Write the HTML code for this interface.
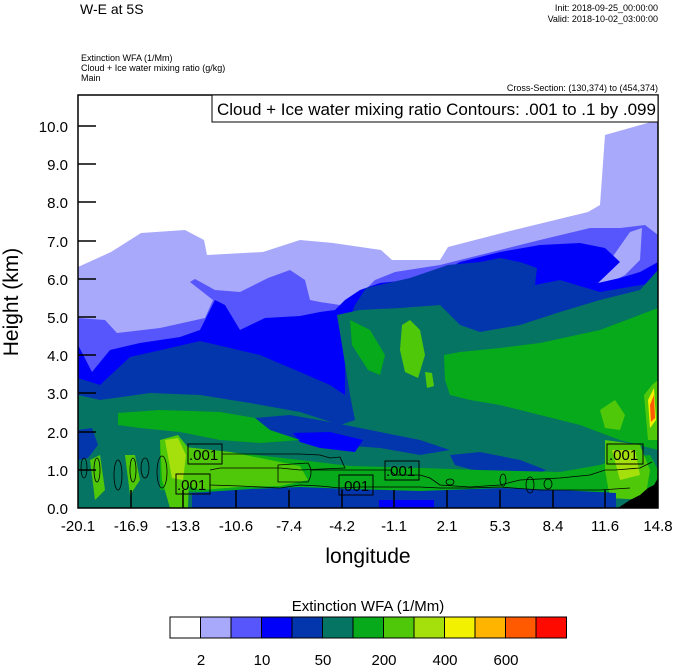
<!DOCTYPE html>
<html><head><meta charset="utf-8"><style>
html,body{margin:0;padding:0;background:#fff;}
body{width:674px;height:667px;overflow:hidden;position:relative;font-family:"Liberation Sans",sans-serif;}
svg{position:absolute;left:0;top:0;}
</style></head><body>
<svg width="674" height="667" viewBox="0 0 674 667" font-family="Liberation Sans, sans-serif">
<defs><clipPath id="c"><rect x="78" y="95" width="580" height="413"/></clipPath></defs>
<g clip-path="url(#c)">
<rect x="78" y="95" width="580" height="413" fill="#fff"/>
<polygon fill="#a9a9fc" points="78,267 111,252 141,233 185,230 204,240 207,255 263,252 300,240 333,243 381,250 392,260 440,260 448,247 514,230 588,212 600,205 605,135 658,120 658,508 78,508"/>
<polygon fill="#5656fc" points="78,318 105,320 117,333 160,328 205,318 213,300 190,282 195,279 215,290 240,292 268,278 290,270 305,280 310,300 320,302 340,305 360,295 375,280 395,272 440,265 480,255 540,240 590,228 620,228 645,225 658,235 658,508 78,508"/>
<polygon fill="#a9a9fc" points="595,282 630,232 642,228 640,260 625,275 600,288"/>
<polygon fill="#0000fa" points="78,345 92,372 110,350 140,343 180,337 200,330 215,300 225,305 240,330 265,318 300,316 320,312 335,310 345,300 360,290 380,283 430,278 460,262 500,252 540,245 580,243 605,248 620,262 598,283 620,278 640,272 658,262 658,508 78,508"/>
<polygon fill="#0336ac" points="78,378 100,385 130,357 170,348 200,341 230,348 260,355 300,372 330,385 345,395 345,330 355,305 366,288 410,278 448,265 480,262 500,258 520,262 537,268 535,285 560,280 600,292 658,282 658,508 78,508"/>
<polygon fill="#067462" points="78,395 100,400 150,393 200,395 250,403 300,412 340,425 355,420 350,395 342,345 337,315 360,310 400,308 440,305 460,325 480,332 520,325 560,312 600,300 640,290 658,270 658,508 78,508"/>
<polygon fill="#06aa1a" points="444,355 460,352 500,348 540,343 600,330 658,308 658,450 620,440 580,425 540,415 500,405 470,400 450,395 445,380"/>
<polygon fill="#06aa1a" points="350,320 370,330 385,355 380,375 368,370 352,345"/>
<polygon fill="#50c80a" points="402,325 410,320 420,330 425,355 418,378 405,372 400,350"/>
<polygon fill="#50c80a" points="425,372 432,373 434,386 427,388"/>
<polygon fill="#50c80a" points="600,410 615,400 625,415 620,430 605,428"/>
<polygon fill="#0336ac" points="255,418 290,415 330,422 380,432 420,440 450,450 420,455 380,448 340,445 300,440 270,430"/>
<polygon fill="#0000fa" points="293,433 330,432 363,440 355,452 320,448 300,442"/>
<polygon fill="#0336ac" points="450,455 480,452 520,460 546,470 530,478 480,472 455,465"/>
<polygon fill="#0336ac" points="78,430 92,428 98,445 88,458 78,460"/>
<polygon fill="#06aa1a" points="118,413 160,410 220,412 255,418 270,430 300,440 260,443 220,440 180,432 140,428 118,425"/>
<polygon fill="#06aa1a" points="160,445 230,452 300,460 350,466 420,468 480,470 560,472 600,465 620,458 650,455 658,470 658,490 600,492 500,490 420,492 350,490 300,488 250,490 200,492 160,490"/>
<polygon fill="#50c80a" points="185,447 230,452 280,462 300,466 308,480 280,486 240,487 200,490 185,485"/>
<polygon fill="#50c80a" points="160,440 178,435 190,450 188,508 170,508 162,480"/>
<polygon fill="#a6e00c" points="165,440 178,438 186,455 183,480 172,478"/>
<polygon fill="#50c80a" points="605,440 640,445 650,470 645,500 610,498 605,470"/>
<polygon fill="#a6e00c" points="612,450 635,450 640,475 620,480"/>
<polygon fill="#50c80a" points="90,460 100,455 105,490 95,500"/>
<polygon fill="#50c80a" points="125,455 135,455 140,480 130,495"/>
<polygon fill="#0336ac" points="192,493 250,489 300,487 350,489 420,491 500,488 560,490 616,493 616,508 192,508"/>
<rect x="379" y="500" width="55" height="8" fill="#0000fa"/>
<polygon fill="#50c80a" points="644,395 652,385 658,380 658,440 648,440"/>
<polygon fill="#f2f200" points="648,400 654,388 656,420 650,428"/>
<polygon fill="#ff5a00" points="650,405 654,395 655,418 651,422"/>
<polygon fill="#000" points="618,508 630,500 640,495 648,488 654,485 658,478 658,508"/>
<g fill="none" stroke="#000" stroke-width="0.8">
<polyline points="222,454 300,454 320,455 330,458 340,457 345,468 300,470 280,468 220,468 210,470"/>
<path d="M278,465 L308,463 Q314,472 308,482 L278,482 Z"/>
<polyline points="310,470 390,470 395,475 420,475 430,478 440,485 470,487 500,485 520,480 560,478 590,475 605,470 615,470 640,468 652,462"/>
<polyline points="210,485 240,486 280,488 300,485 320,486 340,488 360,487 380,487 420,487 440,488 470,488 500,487 540,490 600,490 630,488"/>
<ellipse cx="97" cy="470" rx="3" ry="12"/><ellipse cx="118" cy="475" rx="4" ry="15"/><ellipse cx="133" cy="470" rx="3" ry="12"/><ellipse cx="145" cy="468" rx="4" ry="10"/><ellipse cx="162" cy="472" rx="5" ry="16"/><ellipse cx="84" cy="468" rx="3" ry="10"/><ellipse cx="450" cy="482" rx="4" ry="3"/><ellipse cx="530" cy="485" rx="4" ry="8"/><ellipse cx="548" cy="484" rx="4" ry="5"/><ellipse cx="503" cy="480" rx="3" ry="6"/>
</g>
<g fill="none" stroke="#000" stroke-width="1">
<rect x="188" y="444" width="34" height="20"/><rect x="176" y="474" width="34" height="20"/><rect x="339" y="475" width="34" height="20"/><rect x="385" y="461" width="34" height="19"/><rect x="607" y="444" width="36" height="20"/>
</g>
<g font-size="15" fill="#000">
<text x="189" y="460">.001</text><text x="177" y="490">.001</text><text x="340" y="491">.001</text><text x="386" y="476">.001</text><text x="609" y="460">.001</text>
</g>
</g>
<rect x="78" y="95" width="580" height="413" fill="none" stroke="#000" stroke-width="1.5"/>
<rect x="212" y="95" width="446" height="27" fill="#fff" stroke="#000" stroke-width="1"/>
<text x="217" y="115" font-size="17">Cloud + Ice water mixing ratio Contours: .001 to .1 by .099</text>
<g stroke="#000" stroke-width="1.5">
<line x1="78" y1="126" x2="96" y2="126"/><line x1="78" y1="164" x2="96" y2="164"/><line x1="78" y1="202" x2="96" y2="202"/><line x1="78" y1="241" x2="96" y2="241"/><line x1="78" y1="279" x2="96" y2="279"/><line x1="78" y1="317" x2="96" y2="317"/><line x1="78" y1="355" x2="96" y2="355"/><line x1="78" y1="393" x2="96" y2="393"/><line x1="78" y1="432" x2="96" y2="432"/><line x1="78" y1="470" x2="96" y2="470"/>
<line x1="131" y1="508" x2="131" y2="490"/><line x1="183" y1="508" x2="183" y2="490"/><line x1="236" y1="508" x2="236" y2="490"/><line x1="289" y1="508" x2="289" y2="490"/><line x1="342" y1="508" x2="342" y2="490"/><line x1="394" y1="508" x2="394" y2="490"/><line x1="447" y1="508" x2="447" y2="490"/><line x1="500" y1="508" x2="500" y2="490"/><line x1="553" y1="508" x2="553" y2="490"/><line x1="605" y1="508" x2="605" y2="490"/>
</g>
<g font-size="15" text-anchor="end" fill="#000">
<text x="68" y="132">10.0</text><text x="68" y="170">9.0</text><text x="68" y="208">8.0</text><text x="68" y="247">7.0</text><text x="68" y="285">6.0</text><text x="68" y="323">5.0</text><text x="68" y="361">4.0</text><text x="68" y="399">3.0</text><text x="68" y="438">2.0</text><text x="68" y="476">1.0</text><text x="68" y="514">0.0</text>
</g>
<g font-size="15" text-anchor="middle" fill="#000">
<text x="78" y="531">-20.1</text><text x="131" y="531">-16.9</text><text x="183" y="531">-13.8</text><text x="236" y="531">-10.6</text><text x="289" y="531">-7.4</text><text x="342" y="531">-4.2</text><text x="394" y="531">-1.1</text><text x="447" y="531">2.1</text><text x="500" y="531">5.3</text><text x="553" y="531">8.4</text><text x="605" y="531">11.6</text><text x="658" y="531">14.8</text>
</g>
<text x="368" y="563" font-size="21" text-anchor="middle">longitude</text>
<text transform="translate(18,302) rotate(-90)" font-size="21" text-anchor="middle">Height (km)</text>
<text x="80" y="14" font-size="14">W-E at 5S</text>
<g font-size="9" text-anchor="end"><text x="658" y="11">Init: 2018-09-25_00:00:00</text><text x="658" y="22">Valid: 2018-10-02_03:00:00</text><text x="658" y="91">Cross-Section: (130,374) to (454,374)</text></g>
<g font-size="9"><text x="81" y="61">Extinction WFA   (1/Mm)</text><text x="81" y="71">Cloud + Ice water mixing ratio   (g/kg)</text><text x="81" y="81">Main</text></g>
<text x="368" y="611" font-size="15" text-anchor="middle">Extinction WFA  (1/Mm)</text>
<g stroke="#000" stroke-width="1">
<rect x="170" y="617" width="30.5" height="21" fill="#fff"/>
<rect x="200.5" y="617" width="30.5" height="21" fill="#a9a9fc"/>
<rect x="231" y="617" width="30.5" height="21" fill="#5656fc"/>
<rect x="261.5" y="617" width="30.5" height="21" fill="#0000fa"/>
<rect x="292" y="617" width="30.5" height="21" fill="#0336ac"/>
<rect x="322.5" y="617" width="30.5" height="21" fill="#067462"/>
<rect x="353" y="617" width="30.5" height="21" fill="#06aa1a"/>
<rect x="383.5" y="617" width="30.5" height="21" fill="#50c80a"/>
<rect x="414" y="617" width="30.5" height="21" fill="#a6e00c"/>
<rect x="444.5" y="617" width="30.5" height="21" fill="#f2f200"/>
<rect x="475" y="617" width="30.5" height="21" fill="#ffb400"/>
<rect x="505.5" y="617" width="30.5" height="21" fill="#ff5a00"/>
<rect x="536" y="617" width="30.5" height="21" fill="#ff0a00"/>
</g>
<g font-size="15" text-anchor="middle"><text x="201" y="665">2</text><text x="262" y="665">10</text><text x="323" y="665">50</text><text x="384" y="665">200</text><text x="445" y="665">400</text><text x="506" y="665">600</text></g>
</svg>
</body></html>
